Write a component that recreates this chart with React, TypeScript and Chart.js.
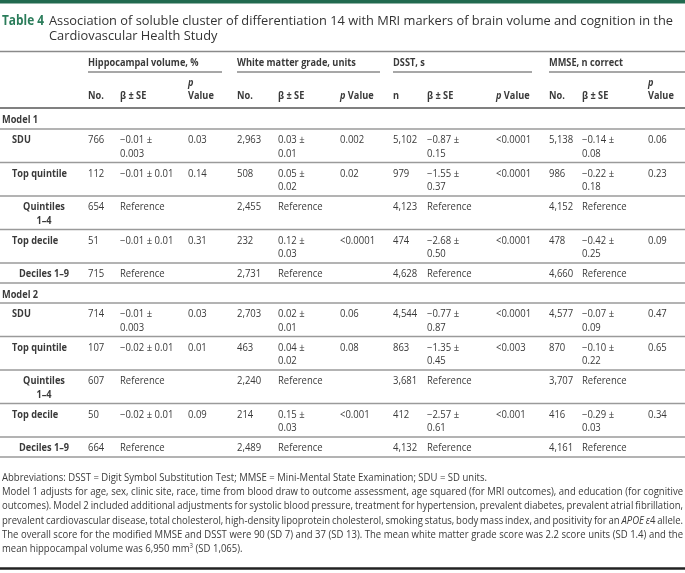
import React, { useEffect, useRef } from "react";
import { Chart, registerables } from "chart.js";

Chart.register(...registerables);

// ---------------- text & data ----------------
const tableLabel = "Table 4";
const titleLines = [
  "Association of soluble cluster of differentiation 14 with MRI markers of brain volume and cognition in the",
  "Cardiovascular Health Study",
];
const outcomeNames = ["Hippocampal volume, %", "White matter grade, units", "DSST, s", "MMSE, n correct"];
const countHeaders = ["No.", "No.", "n", "No."];
const betaHeader = "β ± SE";
const pHeaderItalic = "p";
const pHeaderRest = "Value";
const modelNames = ["Model 1", "Model 2"];
const exposureLabels = ["SDU", "Top quintile", "Quintiles 1–4", "Top decile", "Deciles 1–9"];

// Model 1
const hippoN1 = ["766", "112", "654", "51", "715"];
const hippoBeta1 = ["−0.01 ± 0.003", "−0.01 ± 0.01", "Reference", "−0.01 ± 0.01", "Reference"];
const hippoP1 = ["0.03", "0.14", "", "0.31", ""];
const wmN1 = ["2,963", "508", "2,455", "232", "2,731"];
const wmBeta1 = ["0.03 ± 0.01", "0.05 ± 0.02", "Reference", "0.12 ± 0.03", "Reference"];
const wmP1 = ["0.002", "0.02", "", "<0.0001", ""];
const dsstN1 = ["5,102", "979", "4,123", "474", "4,628"];
const dsstBeta1 = ["−0.87 ± 0.15", "−1.55 ± 0.37", "Reference", "−2.68 ± 0.50", "Reference"];
const dsstP1 = ["<0.0001", "<0.0001", "", "<0.0001", ""];
const mmseN1 = ["5,138", "986", "4,152", "478", "4,660"];
const mmseBeta1 = ["−0.14 ± 0.08", "−0.22 ± 0.18", "Reference", "−0.42 ± 0.25", "Reference"];
const mmseP1 = ["0.06", "0.23", "", "0.09", ""];

// Model 2
const hippoN2 = ["714", "107", "607", "50", "664"];
const hippoBeta2 = ["−0.01 ± 0.003", "−0.02 ± 0.01", "Reference", "−0.02 ± 0.01", "Reference"];
const hippoP2 = ["0.03", "0.01", "", "0.09", ""];
const wmN2 = ["2,703", "463", "2,240", "214", "2,489"];
const wmBeta2 = ["0.02 ± 0.01", "0.04 ± 0.02", "Reference", "0.15 ± 0.03", "Reference"];
const wmP2 = ["0.06", "0.08", "", "<0.001", ""];
const dsstN2 = ["4,544", "863", "3,681", "412", "4,132"];
const dsstBeta2 = ["−0.77 ± 0.87", "−1.35 ± 0.45", "Reference", "−2.57 ± 0.61", "Reference"];
const dsstP2 = ["<0.0001", "<0.003", "", "<0.001", ""];
const mmseN2 = ["4,577", "870", "3,707", "416", "4,161"];
const mmseBeta2 = ["−0.07 ± 0.09", "−0.10 ± 0.22", "Reference", "−0.29 ± 0.03", "Reference"];
const mmseP2 = ["0.47", "0.65", "", "0.34", ""];

type Run = { t: string; it?: boolean; sup?: boolean };
const footnoteLines: Run[][] = [
  [{ t: "Abbreviations: DSST = Digit Symbol Substitution Test; MMSE = Mini-Mental State Examination; SDU = SD units." }],
  [{ t: "Model 1 adjusts for age, sex, clinic site, race, time from blood draw to outcome assessment, age squared (for MRI outcomes), and education (for cognitive" }],
  [{ t: "outcomes). Model 2 included additional adjustments for systolic blood pressure, treatment for hypertension, prevalent diabetes, prevalent atrial fibrillation," }],
  [
    { t: "prevalent cardiovascular disease, total cholesterol, high-density lipoprotein cholesterol, smoking status, body mass index, and positivity for an " },
    { t: "APOE", it: true },
    { t: " " },
    { t: "ε", it: true },
    { t: "4 allele." },
  ],
  [{ t: "The overall score for the modified MMSE and DSST were 90 (SD 7) and 37 (SD 13). The mean white matter grade score was 2.2 score units (SD 1.4) and the" }],
  [{ t: "mean hippocampal volume was 6,950 mm" }, { t: "3", sup: true }, { t: " (SD 1,065)." }],
];
const footnoteJustified = [false, true, true, true, true, false];

const counts = [
  [hippoN1, wmN1, dsstN1, mmseN1],
  [hippoN2, wmN2, dsstN2, mmseN2],
];
const betas = [
  [hippoBeta1, wmBeta1, dsstBeta1, mmseBeta1],
  [hippoBeta2, wmBeta2, dsstBeta2, mmseBeta2],
];
const pvals = [
  [hippoP1, wmP1, dsstP1, mmseP1],
  [hippoP2, wmP2, dsstP2, mmseP2],
];

// ---------------- layout & style ----------------
const W = 685;
const H = 573;
const FONT = '"Open Sans", "DejaVu Sans", sans-serif';
const TEXT = "#3a3a3a";
const GREEN_BAR = "#226a4f";
const GREEN_TEXT = "#2a7c5a";
const RULE = "#9a9a9a";
const SX_BODY = 0.95;
const SX_BOLD = 0.92;

const COLS = [
  { n: 88, beta: 120, p: 188, from: 88, to: 222, wrap: 56, stackP: true },
  { n: 237, beta: 278, p: 340, from: 237, to: 380, wrap: 44, stackP: false },
  { n: 393, beta: 427, p: 496, from: 393, to: 532, wrap: 44, stackP: false },
  { n: 549, beta: 582, p: 648, from: 549, to: 685, wrap: 44, stackP: true },
];

const HEADER_RULE = 108;
const MODEL_ROW = 21;
const DOUBLE_ROW = 33.5;
const SINGLE_ROW = 20;

const tablePlugin = {
  id: "tableDraw",
  afterDraw(chart: any) {
    const ctx: CanvasRenderingContext2D = chart.ctx;
    const xs = chart.scales.x;
    const ys = chart.scales.y;
    const X = (v: number) => xs.getPixelForValue(v);
    const Y = (v: number) => ys.getPixelForValue(v);

    const fontReg = `10px ${FONT}`;
    const fontBold = `bold 10px ${FONT}`;
    const fontBoldIt = `italic bold 10px ${FONT}`;

    const text = (s: string, x: number, y: number, font: string, color = TEXT, align: CanvasTextAlign = "left", sx = 1) => {
      ctx.save();
      ctx.font = font;
      ctx.fillStyle = color;
      ctx.textAlign = align;
      ctx.textBaseline = "alphabetic";
      ctx.translate(X(x), Y(y));
      ctx.scale(sx, 1);
      ctx.fillText(s, 0, 0);
      ctx.restore();
    };
    const measure = (s: string, font: string) => {
      ctx.save();
      ctx.font = font;
      const w = ctx.measureText(s).width;
      ctx.restore();
      return w;
    };
    const hline = (y: number, x0: number, x1: number, color: string, lw: number) => {
      ctx.save();
      ctx.strokeStyle = color;
      ctx.lineWidth = lw;
      ctx.beginPath();
      ctx.moveTo(X(x0), Y(y));
      ctx.lineTo(X(x1), Y(y));
      ctx.stroke();
      ctx.restore();
    };

    // background
    ctx.save();
    ctx.fillStyle = "#ffffff";
    ctx.fillRect(X(0), Y(0), X(W) - X(0), Y(H) - Y(0));
    ctx.fillStyle = GREEN_BAR;
    ctx.fillRect(X(0), Y(0), X(W) - X(0), Y(3.5) - Y(0));
    ctx.restore();

    // title
    const labelFont = `bold 14px ${FONT}`;
    text(tableLabel, 2, 25, labelFont, GREEN_TEXT, "left", 42 / measure(tableLabel, labelFont));
    const titleFont = `13.5px ${FONT}`;
    const titleSx = 624 / measure(titleLines[0], titleFont);
    titleLines.forEach((l, i) => text(l, 49, 25 + i * 15, titleFont, "#333", "left", titleSx));
    hline(51.5, 0, W, "#8a8a8a", 1.5);

    // column headers
    COLS.forEach((c, o) => {
      text(outcomeNames[o], c.from, 66, fontBold, TEXT, "left", SX_BOLD);
      hline(72, c.from, c.to, "#8a8a8a", 1.5);
      text(countHeaders[o], c.n, 99, fontBold, TEXT, "left", SX_BOLD);
      text(betaHeader, c.beta, 99, fontBold, TEXT, "left", SX_BOLD);
      if (c.stackP) {
        text(pHeaderItalic, c.p, 86, fontBoldIt, TEXT, "left", SX_BOLD);
        text(pHeaderRest, c.p, 99, fontBold, TEXT, "left", SX_BOLD);
      } else {
        text(pHeaderItalic, c.p, 99, fontBoldIt, TEXT, "left", SX_BOLD);
        const pw = measure(pHeaderItalic + " ", fontBoldIt) * SX_BOLD;
        text(pHeaderRest, c.p + pw, 99, fontBold, TEXT, "left", SX_BOLD);
      }
    });
    hline(HEADER_RULE, 0, W, "#808080", 2);

    const wrapBeta = (s: string, maxW: number) => {
      if (measure(s, fontReg) * SX_BODY <= maxW || s.indexOf("± ") < 0) return [s];
      const k = s.indexOf("± ") + 1;
      return [s.slice(0, k), s.slice(k + 1)];
    };

    let top = HEADER_RULE;
    modelNames.forEach((mName, m) => {
      text(mName, 2, top + 14.5, fontBold, TEXT, "left", SX_BOLD);
      top += m === 0 ? MODEL_ROW : SINGLE_ROW;
      hline(top, 0, W, RULE, 1.6);
      exposureLabels.forEach((lab, i) => {
        const isRef = betas[m].every((b) => b[i] === "Reference");
        let labLines = [lab];
        if (isRef && measure(lab, fontBold) * SX_BOLD > 58) {
          const k = lab.lastIndexOf(" ");
          labLines = [lab.slice(0, k), lab.slice(k + 1)];
        }
        const betaLines = COLS.map((c, o) => wrapBeta(betas[m][o][i], c.wrap));
        const nLines = Math.max(labLines.length, ...betaLines.map((b) => b.length));
        const h = nLines > 1 ? DOUBLE_ROW : SINGLE_ROW;
        const b1 = top + 14;
        labLines.forEach((l, j) => {
          if (isRef) text(l, 44, b1 + j * 13.5, fontBold, TEXT, "center", SX_BOLD);
          else text(l, 12, b1 + j * 13.5, fontBold, TEXT, "left", SX_BOLD);
        });
        COLS.forEach((c, o) => {
          text(counts[m][o][i], c.n, b1, fontReg, TEXT, "left", SX_BODY);
          betaLines[o].forEach((l, j) => text(l, c.beta, b1 + j * 13.5, fontReg, TEXT, "left", SX_BODY));
          const p = pvals[m][o][i];
          if (p) text(p, c.p, b1, fontReg, TEXT, "left", SX_BODY);
        });
        top += h;
        hline(top, 0, W, RULE, 1.6);
      });
    });

    // footnotes
    const fnFont = `11px ${FONT}`;
    const fnIt = `italic 11px ${FONT}`;
    const fnSup = `7px ${FONT}`;
    const firstLineText = footnoteLines[0].map((r) => r.t).join("");
    const fnSx = 485 / measure(firstLineText, fnFont);
    const fontOf = (r: Run) => (r.sup ? fnSup : r.it ? fnIt : fnFont);
    const fnTop = top + 24;
    footnoteLines.forEach((runs, li) => {
      const words: Run[][] = [];
      let cur: Run[] = [];
      runs.forEach((r) => {
        const parts = r.t.split(" ");
        parts.forEach((part, pi) => {
          if (pi > 0) {
            if (cur.length) words.push(cur);
            cur = [];
          }
          if (part) cur.push({ t: part, it: r.it, sup: r.sup });
        });
      });
      if (cur.length) words.push(cur);
      const wordW = words.map((w) => w.reduce((a, r) => a + measure(r.t, fontOf(r)), 0));
      const total = wordW.reduce((a, b) => a + b, 0);
      const target = 681 / fnSx;
      const gap = footnoteJustified[li] && words.length > 1 ? (target - total) / (words.length - 1) : measure(" ", fnFont);
      const baseY = Y(fnTop + li * 14.2);
      ctx.save();
      ctx.translate(X(2), baseY);
      ctx.scale(fnSx, 1);
      ctx.fillStyle = "#3a3a3a";
      ctx.textBaseline = "alphabetic";
      ctx.textAlign = "left";
      let x = 0;
      words.forEach((w, wi) => {
        w.forEach((r) => {
          ctx.font = fontOf(r);
          ctx.fillText(r.t, x, r.sup ? -4.5 : 0);
          x += ctx.measureText(r.t).width;
        });
        x += wi < words.length - 1 ? gap : 0;
      });
      ctx.restore();
    });

    hline(568.5, 0, W, "#222222", 2.5);
  },
};

export default function App() {
  const ref = useRef<HTMLCanvasElement>(null);
  useEffect(() => {
    document.body.style.margin = "0";
    const chart = new Chart(ref.current as HTMLCanvasElement, {
      type: "scatter",
      data: { datasets: [] },
      options: {
        animation: false,
        responsive: false,
        maintainAspectRatio: false,
        devicePixelRatio: 1,
        layout: { padding: 0 },
        events: [],
        plugins: {
          legend: { display: false },
          tooltip: { enabled: false },
          title: { display: false },
        },
        scales: {
          x: { type: "linear", min: 0, max: W, display: false },
          y: { type: "linear", min: 0, max: H, reverse: true, display: false },
        },
      },
      plugins: [tablePlugin],
    } as any);
    return () => chart.destroy();
  }, []);
  return (
    <div style={{ width: W, height: H, background: "#fff" }}>
      <canvas ref={ref} width={W} height={H} style={{ display: "block", width: W, height: H }} />
    </div>
  );
}
